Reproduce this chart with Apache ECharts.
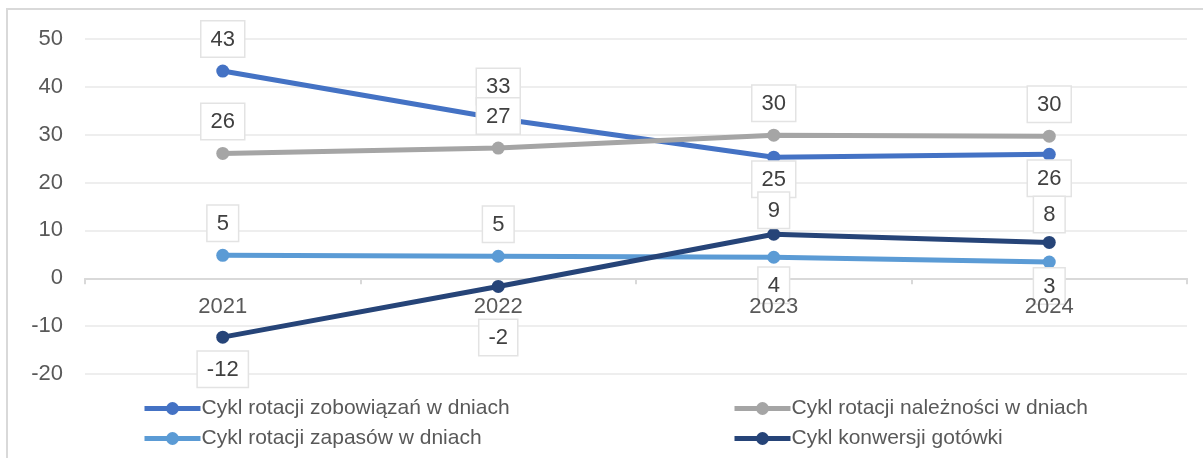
<!DOCTYPE html>
<html>
<head>
<meta charset="utf-8">
<script src="https://cdn.jsdelivr.net/npm/echarts@6/dist/echarts.min.js"></script>
<style>
  html, body { margin: 0; background: #fff; }
  #chart { width: 1203px; height: 458px; }
</style>
</head>
<body>
<div id="chart"></div>
<script>
const years = ['2021', '2022', '2023', '2024'];
const zobowiazania = [43.3, 33.4, 25.3, 25.9];
const naleznosci = [26.1, 27.2, 29.9, 29.7];
const zapasy = [4.8, 4.6, 4.4, 3.4];
const konwersja = [-12.3, -1.7, 9.2, 7.5];
const yTicks = [-20, -10, 0, 10, 20, 30, 40, 50];

const names = [
  'Cykl rotacji zobowiązań w dniach',
  'Cykl rotacji należności w dniach',
  'Cykl rotacji zapasów w dniach',
  'Cykl konwersji gotówki'
];
const colors = ['#4472C4', '#A5A5A5', '#5B9BD5', '#264478'];

// where each data label sits (side, distance) - layout only
const labelSpots = [
  [['top', 8], ['top', 8], ['bottom', -2], ['bottom', 0]],
  [['top', 8], ['top', 8], ['top', 8], ['top', 8]],
  [['top', 8], ['top', 8], ['bottom', 4], ['bottom', 0]],
  [['bottom', 8], ['bottom', 27], ['top', 0], ['top', 4]]
];

const font = "'Liberation Sans', Arial, sans-serif";
const gridTop = 39, gridBottom = 84, chartH = 458;
const yMin = yTicks[0], yMax = yTicks[yTicks.length - 1];
// x axis sits on the zero line, so shift it up from the grid bottom
const zeroOffset = -(0 - yMin) / (yMax - yMin) * (chartH - gridTop - gridBottom);

const chart = echarts.init(document.getElementById('chart'));

const seriesValues = [zobowiazania, naleznosci, zapasy, konwersja];
const series = seriesValues.map((vals, s) => ({
  name: names[s],
  type: 'line',
  symbol: 'circle',
  symbolSize: 13,
  color: colors[s],
  lineStyle: { width: 5, color: colors[s] },
  itemStyle: { color: colors[s] },
  data: vals.map((v, i) => ({
    value: v,
    label: { position: labelSpots[s][i][0], distance: labelSpots[s][i][1] }
  })),
  label: {
    show: true,
    formatter: p => Math.round(p.value),
    fontFamily: font,
    fontSize: 22,
    lineHeight: 24,
    color: '#404040',
    backgroundColor: '#fff',
    borderColor: '#e3e3e3',
    borderWidth: 1.5,
    padding: [6, 9, 5, 9]
  },
  emphasis: { disabled: true }
}));

const legendBase = {
  orient: 'vertical',
  top: 393,
  itemWidth: 56,
  itemHeight: 16,
  itemGap: 9,
  lineStyle: { width: 5 },
  textStyle: { fontFamily: font, fontSize: 21, color: '#595959', padding: [0, 0, 0, -4] }
};

const option = {
  animation: false,
  backgroundColor: '#fff',
  graphic: [{
    type: 'rect',
    shape: { x: 7, y: 9, width: 1300, height: 600 },
    style: { fill: 'none', stroke: '#d9d9d9', lineWidth: 2 },
    silent: true
  }],
  grid: { left: 85, right: 16, top: gridTop, bottom: gridBottom },
  legend: [
    Object.assign({}, legendBase, { left: 137, data: [names[0], names[2]] }),
    Object.assign({}, legendBase, { left: 727, data: [names[1], names[3]] })
  ],
  xAxis: [
    {
      // axis line + ticks, under the series
      type: 'category',
      data: years,
      offset: zeroOffset,
      axisLine: { onZero: false, lineStyle: { color: '#d9d9d9', width: 2 } },
      axisTick: { show: true, length: 6, lineStyle: { color: '#d9d9d9', width: 2 } },
      axisLabel: { show: false },
      splitLine: { show: false }
    },
    {
      // year labels only, drawn over the data labels
      type: 'category',
      data: years,
      position: 'bottom',
      offset: zeroOffset,
      z: 10,
      axisLine: { show: false },
      axisTick: { show: false },
      axisLabel: { fontFamily: font, fontSize: 22, color: '#595959', margin: 18 },
      splitLine: { show: false }
    }
  ],
  yAxis: {
    type: 'value',
    min: yMin,
    max: yMax,
    interval: yTicks[1] - yTicks[0],
    axisLine: { show: false },
    axisTick: { show: false },
    axisLabel: { fontFamily: font, fontSize: 22, color: '#595959', margin: 22 },
    splitLine: { lineStyle: { color: '#eeeeee', width: 2 } }
  },
  series: series
};

chart.setOption(option);
</script>
</body>
</html>
